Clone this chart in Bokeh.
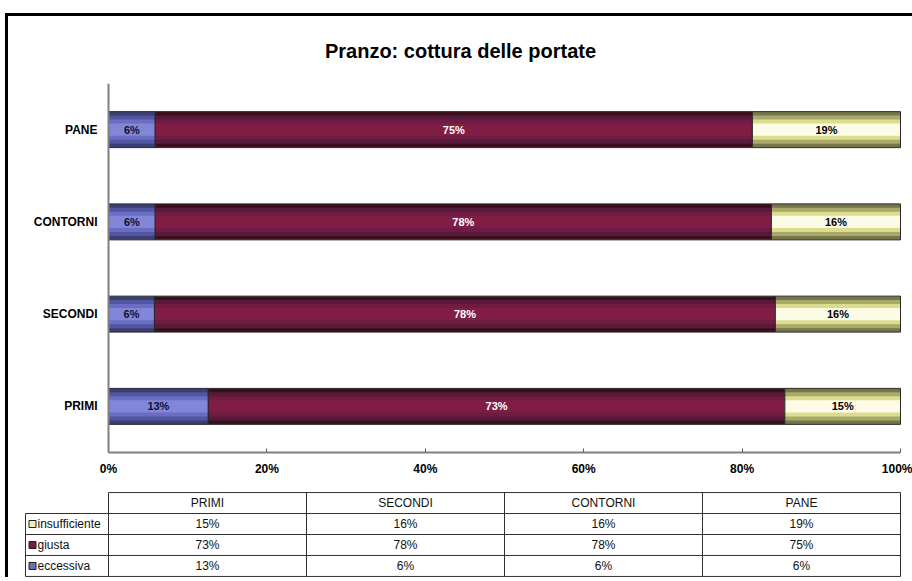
from bokeh.plotting import figure
from bokeh.models import FactorRange, Range1d, FixedTicker, ColumnDataSource, Title, Span
from bokeh.layouts import column
from bokeh.core.properties import value
from bokeh.embed import file_html
from bokeh.resources import INLINE

# ---------------- data ----------------
categories = ["PRIMI", "SECONDI", "CONTORNI", "PANE"]
series_names = ["insufficiente", "giusta", "eccessiva"]
eccessiva = [12.6, 5.8, 5.9, 5.9]
giusta = [72.8, 78.4, 77.8, 75.4]
insufficiente = [14.6, 15.8, 16.3, 18.7]
x_ticks = [0, 20, 40, 60, 80, 100]
x_tick_labels = ["0%", "20%", "40%", "60%", "80%", "100%"]
title_text = "Pranzo: cottura delle portate"

FONT = "Liberation Sans"

# ---------------- styles ----------------
band_colors = {
    "eccessiva": ["#3b3e72", "#5255a0", "#6a6ec2", "#8286d8"],
    "giusta": ["#3a0e1a", "#571a3c", "#701c42", "#801d45"],
    "insufficiente": ["#76764a", "#a9a96a", "#dcdc8e", "#fcfce6"],
}
label_colors = {"eccessiva": "#10102a", "giusta": "#ffffff", "insufficiente": "#000000"}
legend_colors = {"eccessiva": "#6a6ebc", "giusta": "#7a1c40", "insufficiente": "#ededc0"}

W = 904          # figure width (px)
HA = 475         # chart height
HB = 86          # table height
PLOT_L = 100     # px from figure left to 0%
PLOT_W = 792     # px for 0..100%
BAR_H = 0.39

k = PLOT_W / 100.0
xs0 = -PLOT_L / k
xs1 = (W - PLOT_L) / k

p = figure(width=W, height=HA,
           y_range=FactorRange(*categories, range_padding=0),
           x_range=Range1d(xs0, xs1), y_axis_location=None,
           output_backend="svg", toolbar_location=None,
           min_border_left=0, min_border_right=0,
           min_border_top=66, min_border_bottom=39)
p.outline_line_color = None
p.xgrid.visible = False
p.ygrid.visible = False
p.background_fill_color = "white"
p.border_fill_color = "white"

# stacked segments
seg_vals = {"eccessiva": eccessiva, "giusta": giusta, "insufficiente": insufficiente}
order = ["eccessiva", "giusta", "insufficiente"]
left = [0.0] * len(categories)
for name in order:
    vals = seg_vals[name]
    right = [l + v for l, v in zip(left, vals)]
    src = ColumnDataSource(dict(y=categories, left=left, right=right,
                                mid=[(l + r) / 2 for l, r in zip(left, right)],
                                lab=["%d%%" % round(v) for v in vals]))
    cols = band_colors[name]
    fracs = [1.0, 0.78, 0.56, 0.34]
    for f, c in zip(fracs, cols):
        p.hbar(y="y", left="left", right="right", height=BAR_H * f, source=src,
               fill_color=c, line_color=None)
    p.hbar(y="y", left="left", right="right", height=BAR_H, source=src,
           fill_color=None, line_color="#2a2a2a", line_width=1)
    p.text(x="mid", y="y", text="lab", source=src, text_align="center",
           text_baseline="middle", text_font=value(FONT), text_font_style="bold",
           text_font_size="11px", text_color=label_colors[name])
    left = right

# category axis (labels + line)
p.text(x=[0] * len(categories), y=categories, text=categories, x_offset=-11,
       text_align="right", text_baseline="middle", text_font=value(FONT),
       text_font_style="bold", text_font_size="12px", text_color="black")
p.add_layout(Span(location=0, dimension="height", line_color="#808080", line_width=2))

# x axis
p.xaxis.bounds = (0, 100)
p.xaxis.ticker = FixedTicker(ticks=x_ticks)
p.xaxis.major_label_overrides = {t: l for t, l in zip(x_ticks, x_tick_labels)}
p.xaxis.major_tick_in = 4
p.xaxis.major_tick_out = 0
p.xaxis.minor_tick_line_color = None
p.xaxis.axis_line_color = "#808080"
p.xaxis.axis_line_width = 2
p.xaxis.major_tick_line_color = "#606060"
p.xaxis.major_label_standoff = 9
p.xaxis.major_label_text_font = FONT
p.xaxis.major_label_text_font_style = "bold"
p.xaxis.major_label_text_font_size = "12px"
p.xaxis.major_label_text_color = "black"

t = Title(text=title_text, align="center", standoff=43,
          text_font=FONT, text_font_size="20px", text_font_style="bold",
          text_color="black")
p.add_layout(t, "above")

# ---------------- data table ----------------
leg_left = -83 / k
ncat = len(categories)
colw = 100.0 / ncat

pt = figure(width=W, height=HB, x_range=Range1d(xs0, xs1),
            y_range=Range1d(-0.05, 4.05), x_axis_location=None,
            y_axis_location=None, output_backend="svg", toolbar_location=None,
            min_border=0)
pt.outline_line_color = None
pt.xgrid.visible = False
pt.ygrid.visible = False

nrows = len(series_names)
# horizontal lines
hx0 = [leg_left] * (nrows + 1) + [0]
hx1 = [100] * (nrows + 2)
hy = list(range(nrows + 1)) + [nrows + 1]
pt.segment(x0=hx0, x1=hx1, y0=hy, y1=hy, line_color="#303030", line_width=1)
# vertical lines
vx = [leg_left] + [i * colw for i in range(ncat + 1)]
vy0 = [0] * (ncat + 2)
vy1 = [nrows] + [nrows + 1] * (ncat + 1)
pt.segment(x0=vx, x1=vx, y0=vy0, y1=vy1, line_color="#303030", line_width=1)

TFS = "12px"
# header
pt.text(x=[colw * (i + 0.5) for i in range(ncat)], y=[nrows + 0.5] * ncat,
        text=categories, text_align="center", text_baseline="middle",
        text_font=value(FONT), text_font_size=TFS, text_color="#111111")
# rows
for r, name in enumerate(series_names):
    yy = nrows - r - 0.5
    vals = seg_vals[name]
    pt.text(x=[colw * (i + 0.5) for i in range(ncat)], y=[yy] * ncat,
            text=["%d%%" % round(v) for v in vals], text_align="center",
            text_baseline="middle", text_font=value(FONT), text_font_size=TFS,
            text_color="#111111")
    pt.scatter(x=[leg_left + 7 / k], y=[yy], marker="square", size=7,
               fill_color=legend_colors[name], line_color="#202020", line_width=1)
    pt.text(x=[leg_left + 12 / k], y=[yy], text=[name], text_align="left",
            text_baseline="middle", text_font=value(FONT), text_font_size=TFS,
            text_color="#111111")

layout = column(p, pt, margin=(13, 0, 0, 5),
                styles={"border-top": "3px solid black", "border-left": "3px solid black"})

open("out.html", "w").write(file_html(layout, INLINE))
